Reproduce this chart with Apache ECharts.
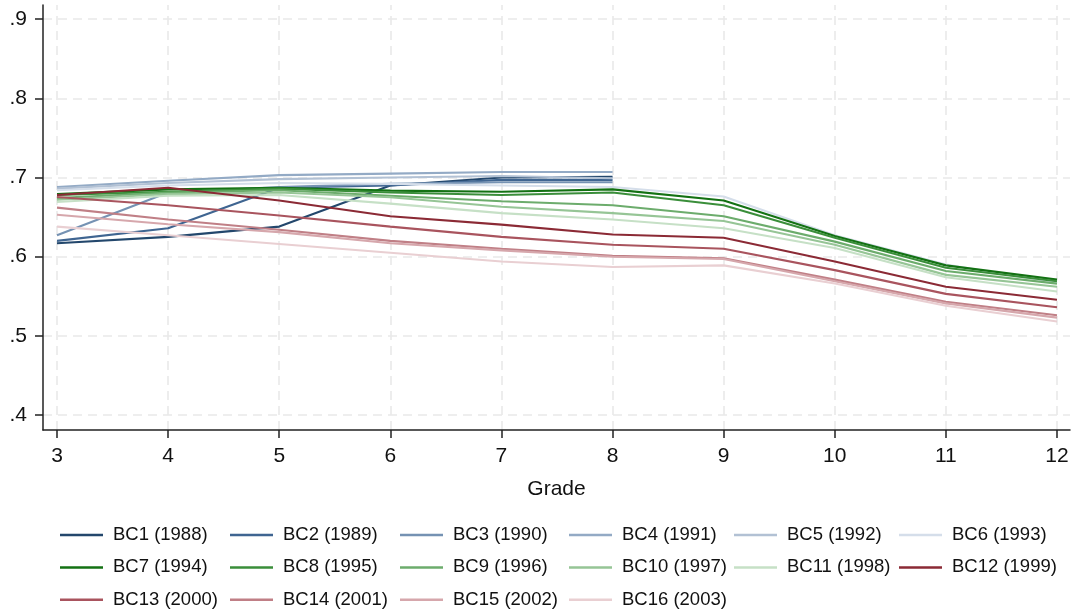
<!DOCTYPE html>
<html>
<head>
<meta charset="utf-8">
<script src="https://cdn.jsdelivr.net/npm/echarts@6/dist/echarts.min.js"></script>
<style>
html,body{margin:0;padding:0;background:#fff;}
#chart{width:1077px;height:615px;}
</style>
</head>
<body>
<div id="chart"></div>
<script>
const grades = [3, 4, 5, 6, 7, 8, 9, 10, 11, 12];
const yTicks = [0.4, 0.5, 0.6, 0.7, 0.8, 0.9];
const seriesNames = ['BC1 (1988)','BC2 (1989)','BC3 (1990)','BC4 (1991)','BC5 (1992)','BC6 (1993)',
  'BC7 (1994)','BC8 (1995)','BC9 (1996)','BC10 (1997)','BC11 (1998)','BC12 (1999)',
  'BC13 (2000)','BC14 (2001)','BC15 (2002)','BC16 (2003)'];
const bc1  = [0.617, 0.625, 0.638, 0.690, 0.700, 0.701];
const bc2  = [0.620, 0.636, 0.687, 0.690, 0.697, 0.697];
const bc3  = [0.627, 0.681, 0.688, 0.692, 0.694, 0.694];
const bc4  = [0.688, 0.696, 0.703, 0.705, 0.707, 0.707];
const bc5  = [0.686, 0.693, 0.698, 0.700, 0.702, 0.699];
const bc6  = [0.684, 0.690, 0.693, 0.692, 0.690, 0.688, 0.676, 0.627, 0.590, 0.567];
const bc7  = [0.679, 0.685, 0.687, 0.6835, 0.682, 0.685, 0.671, 0.626, 0.589, 0.571];
const bc8  = [0.678, 0.682, 0.686, 0.681, 0.678, 0.681, 0.665, 0.624, 0.586, 0.569];
const bc9  = [0.674, 0.681, 0.684, 0.677, 0.670, 0.665, 0.651, 0.619, 0.582, 0.566];
const bc10 = [0.672, 0.679, 0.681, 0.675, 0.663, 0.655, 0.645, 0.615, 0.577, 0.562];
const bc11 = [0.669, 0.677, 0.678, 0.667, 0.655, 0.647, 0.636, 0.611, 0.574, 0.556];
const bc12 = [0.678, 0.687, 0.671, 0.651, 0.6405, 0.628, 0.624, 0.594, 0.562, 0.5455];
const bc13 = [0.6755, 0.665, 0.652, 0.638, 0.625, 0.615, 0.610, 0.583, 0.553, 0.536];
const bc14 = [0.662, 0.647, 0.634, 0.620, 0.610, 0.601, 0.598, 0.571, 0.543, 0.526];
const bc15 = [0.653, 0.641, 0.631, 0.617, 0.608, 0.600, 0.597, 0.569, 0.541, 0.523];
const bc16 = [0.638, 0.627, 0.616, 0.605, 0.594, 0.587, 0.589, 0.566, 0.538, 0.518];
const allValues = [bc1,bc2,bc3,bc4,bc5,bc6,bc7,bc8,bc9,bc10,bc11,bc12,bc13,bc14,bc15,bc16];
const colors = ['#23476c','#3f6591','#7592b3','#93aac5','#b2c1d4','#d5deea',
  '#137113','#3a8e3a','#6cac6c','#96c596','#c6e0c6','#8b2a35',
  '#a9545e','#c07f86','#d6a7ac','#e9cfd2'];

const FONT = 'Arimo, "Liberation Sans", Arial, sans-serif';
const gridStyle = {color: '#e9e9e9', width: 1.6, type: [9, 6]};

const series = [{
  name: '__grid', type: 'line', data: [], silent: true, z: 0,
  markLine: {
    silent: true, symbol: 'none', animation: false, z: 0,
    label: {show: false}, lineStyle: gridStyle,
    data: yTicks.map(v => ({yAxis: v})).concat(grades.map(g => ({xAxis: g})))
  }
}];
allValues.forEach((vals, i) => {
  series.push({
    name: seriesNames[i], type: 'line', symbol: 'none', z: 2 + i,
    lineStyle: {width: 2.1, color: colors[i]}, itemStyle: {color: colors[i]},
    data: vals.map((v, j) => [grades[j], v])
  });
});

const colX = [60, 230, 400, 569, 734, 899];
const legends = colX.map((x, c) => ({
  orient: 'vertical', left: x, top: 524, height: 88, padding: 0, itemGap: 10.4,
  itemWidth: 43, itemHeight: 2.5, icon: 'rect', selectedMode: false,
  textStyle: {fontFamily: FONT, fontSize: 18.5, color: '#111', lineHeight: 22, padding: [0, 0, 0, 5]},
  data: [c, c + 6, c + 12].filter(k => k < seriesNames.length).map(k => seriesNames[k])
}));

const chart = echarts.init(document.getElementById('chart'), null, {renderer: 'canvas'});
chart.setOption({
  animation: false,
  backgroundColor: '#fff',
  grid: {left: 43, right: 7, top: 5, bottom: 185, containLabel: false},
  legend: legends,
  xAxis: {
    type: 'value', min: 2.874, max: 12.117,
    name: 'Grade', nameLocation: 'middle', nameGap: 49,
    nameTextStyle: {fontFamily: FONT, fontSize: 21, color: '#111'},
    axisLine: {show: true, lineStyle: {color: '#222', width: 1.5}},
    axisTick: {show: true, length: 8, customValues: grades, lineStyle: {color: '#222', width: 1.5}},
    axisLabel: {customValues: grades, margin: 16, fontFamily: FONT, fontSize: 21, color: '#111'},
    splitLine: {show: false}
  },
  yAxis: {
    type: 'value', min: 0.381, max: 0.918,
    axisLine: {show: true, lineStyle: {color: '#222', width: 1.5}},
    axisTick: {show: true, length: 8, customValues: yTicks, lineStyle: {color: '#222', width: 1.5}},
    axisLabel: {customValues: yTicks, margin: 16, fontFamily: FONT, fontSize: 21, color: '#111',
      formatter: v => v.toFixed(1).replace(/^0/, '')},
    splitLine: {show: false}
  },
  series: series
});
</script>
</body>
</html>
